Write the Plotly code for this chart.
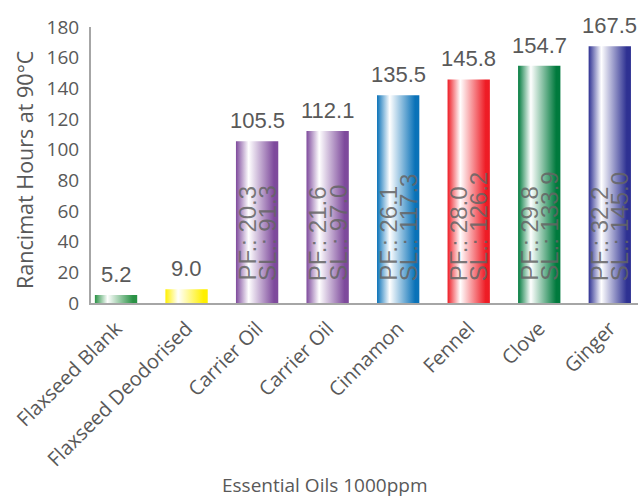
import plotly.graph_objects as go

categories = ["Flaxseed Blank", "Flaxseed Deodorised", "Carrier Oil", "Carrier Oil",
              "Cinnamon", "Fennel", "Clove", "Ginger"]
hours = [5.2, 9.0, 105.5, 112.1, 135.5, 145.8, 154.7, 167.5]
pf_values = [None, None, 20.3, 21.6, 26.1, 28.0, 29.8, 32.2]
sl_values = [None, None, 91.3, 97.0, 117.3, 126.2, 133.9, 145.0]
bar_colors = ["#2A9245", "#FFF000", "#7E4A9C", "#7E4A9C",
              "#0A72B8", "#EE1C25", "#007A3D", "#2E3192"]
y_ticks = [0, 20, 40, 60, 80, 100, 120, 140, 160, 180]

BAR_HALF = 0.3
GREY = "#595959"

fig = go.Figure()

# Cylinder-style bars: filled rectangles with a horizontal gradient
for i, (v, c) in enumerate(zip(hours, bar_colors)):
    fig.add_trace(go.Scatter(
        x=[i - BAR_HALF, i + BAR_HALF, i + BAR_HALF, i - BAR_HALF, i - BAR_HALF],
        y=[0, 0, v, v, 0],
        mode="lines", line=dict(width=0),
        fill="toself",
        fillgradient=dict(type="horizontal",
                          colorscale=[[0, c], [0.3, "#FFFFFF"], [0.9, c], [1, c]]),
        hoverinfo="skip", showlegend=False,
    ))

annotations = []
# value labels above bars
for i, v in enumerate(hours):
    annotations.append(dict(
        x=i, y=v, xref="x", yref="y", text=f"{v:.1f}", showarrow=False,
        yanchor="bottom", yshift=6,
        font=dict(family="Liberation Sans, Arial", size=22, color=GREY),
    ))
# PF / SL labels written up inside the bars
for i, (pf, sl) in enumerate(zip(pf_values, sl_values)):
    if pf is None:
        continue
    for txt, dx in ((f"PF.: {pf:.1f}", -10), (f"SL.: {sl:.1f}", 10)):
        annotations.append(dict(
            x=i, y=0, xref="x", yref="y", text=txt, showarrow=False,
            textangle=-90, yanchor="bottom", xanchor="center",
            xshift=dx, yshift=20,
            font=dict(family="Liberation Sans Narrow, Arial Narrow, Liberation Sans", size=24,
                      color="rgba(100,100,100,0.85)"),
        ))
# axis titles
annotations.append(dict(
    x=-0.1207, y=0.482, xref="paper", yref="paper", text="Rancimat Hours at 90°C",
    showarrow=False, textangle=-90, xanchor="center", yanchor="middle",
    font=dict(family="Open Sans", size=21.5, color=GREY),
))
annotations.append(dict(
    x=0.428, y=-0.659, xref="paper", yref="paper", text="Essential Oils 1000ppm",
    showarrow=False, xanchor="center", yanchor="middle",
    font=dict(family="Open Sans", size=19, color=GREY),
))

fig.update_layout(
    width=638, height=499,
    margin=dict(l=91, r=0, t=27, b=196),
    paper_bgcolor="white", plot_bgcolor="white",
    annotations=annotations,
    xaxis=dict(
        range=[-0.355, 7.40], tickmode="array",
        tickvals=list(range(len(categories))), ticktext=categories,
        tickangle=-45, showgrid=False, zeroline=False,
        showline=True, linecolor="#A6A6A6", linewidth=2,
        tickfont=dict(family="Open Sans", size=20, color=GREY),
        ticks="outside", ticklen=4, tickcolor="rgba(0,0,0,0)",
    ),
    yaxis=dict(
        range=[0, 180], tickmode="array", tickvals=y_ticks,
        showgrid=False, zeroline=False,
        showline=True, linecolor="#A6A6A6", linewidth=2,
        tickfont=dict(family="Open Sans", size=19, color=GREY),
        ticks="outside", ticklen=6, tickcolor="rgba(0,0,0,0)",
    ),
)

fig.write_html("out.html")
